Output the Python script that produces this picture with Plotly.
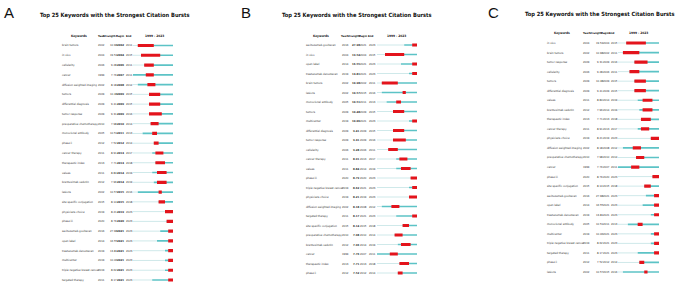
import plotly.graph_objects as go

W, H = 676, 286

# ---------------- data ----------------
keywords = ["brain tumors", "in vivo", "cellularity", "cancer", "diffusion weighted imaging",
            "tumors", "differential diagnosis", "tumor response", "preoperative chemotherapy",
            "monoclonal antibody", "phase ii", "cancer therapy", "therapeutic index", "values",
            "brentuximab vedotin", "lesions", "site specific conjugation", "physicians choice",
            "phase iii", "sacituzumab govitecan", "open label", "trastuzumab deruxtecan",
            "multicenter", "triple negative breast cancer", "targeted therapy"]
first_year = [2002, 2004, 2006, 1999, 2002, 2009, 2009, 2009, 2010, 2005, 2012, 2011, 2013,
              2011, 2012, 2002, 2015, 2019, 2020, 2016, 2014, 2019, 2019, 2019, 2011]
strength = [10.98, 19.54, 9.28, 7.76, 8.18, 10.48, 9.41, 9.31, 7.98, 10.51, 7.52, 8.91, 7.71,
            8.84, 7.96, 10.57, 8.14, 8.21, 8.79, 27.98, 16.55, 13.81, 10.06, 8.62, 8.17]
burst_begin = [2002, 2004, 2006, 2007, 2008, 2009, 2009, 2009, 2010, 2011, 2012, 2013, 2013,
               2014, 2014, 2015, 2015, 2019, 2020, 2021, 2021, 2021, 2021, 2021, 2021]
burst_end = [2011, 2015, 2011, 2011, 2012, 2015, 2015, 2016, 2014, 2013, 2014, 2017, 2018,
             2019, 2019, 2016, 2018, 2023, 2023, 2023, 2023, 2023, 2023, 2023, 2023]

order_A = list(keywords)
order_B = ["sacituzumab govitecan", "in vivo", "open label", "trastuzumab deruxtecan",
           "brain tumors", "lesions", "monoclonal antibody", "tumors", "multicenter",
           "differential diagnosis", "tumor response", "cellularity", "cancer therapy", "values",
           "phase iii", "triple negative breast cancer", "physicians choice",
           "diffusion weighted imaging", "targeted therapy", "site specific conjugation",
           "preoperative chemotherapy", "brentuximab vedotin", "cancer", "therapeutic index",
           "phase ii"]
order_C = ["in vivo", "brain tumors", "tumor response", "cellularity", "tumors",
           "differential diagnosis", "values", "brentuximab vedotin", "therapeutic index",
           "cancer therapy", "physicians choice", "diffusion weighted imaging",
           "preoperative chemotherapy", "cancer", "phase iii", "site specific conjugation",
           "sacituzumab govitecan", "open label", "trastuzumab deruxtecan", "monoclonal antibody",
           "multicenter", "triple negative breast cancer", "targeted therapy", "phase ii", "lesions"]

start_year, final_year = 1999, 2023
title_text = "Top 25 Keywords with the Strongest Citation Bursts"
col_headers = ["Year", "Strength", "Begin", "End"]

# ---------------- layout helpers ----------------
def px_x(p):
    return p / W

def px_y(p):
    return 1 - p / H

FONT = "DejaVu Sans Condensed, Liberation Sans, sans-serif"
RED = "#e3141c"
CYAN = "#5cc3c6"
LIGHT = "#cfe9ea"
TXT = "#2e2e2e"

panels = [
    dict(letter="A", order=order_A, bold="begin", letter_x=8.5, letter_y=13,
         title_x=115, title_y=15, bar=(133, 173), rows=(45.5, 280), kw_x=60, kw_head=79,
         cols=[101.5, 113.5, 120.5, 129.5], heads=[101, 109.5, 120, 128.5], tl_head=154),
    dict(letter="B", order=order_B, bold="strength", letter_x=246, letter_y=13,
         title_x=357, title_y=15, bar=(377, 417), rows=(45, 273), kw_x=304, kw_head=321,
         cols=[345, 356.5, 363, 372], heads=[343.5, 353.5, 362.8, 371], tl_head=397),
    dict(letter="C", order=order_C, bold=None, letter_x=493, letter_y=13,
         title_x=600, title_y=14, bar=(618, 659), rows=(43, 272), kw_x=545, kw_head=562,
         cols=[586, 599.5, 606.5, 614], heads=[586, 595.5, 605, 612], tl_head=638.5),
]

fig = go.Figure()
annotations = []
layout_axes = {}

for n, p in enumerate(panels, start=1):
    xa = "x" if n == 1 else f"x{n}"
    ya = "y" if n == 1 else f"y{n}"
    r0, r1 = p["rows"]
    s = (r1 - r0) / 24
    top_px = r0 - 2 * s
    bot_px = r1 + 0.6 * s
    layout_axes["xaxis" if n == 1 else f"xaxis{n}"] = dict(
        domain=[px_x(p["bar"][0]), px_x(p["bar"][1])], range=[start_year, final_year + 1],
        visible=False, anchor=ya, fixedrange=True)
    layout_axes["yaxis" if n == 1 else f"yaxis{n}"] = dict(
        domain=[px_y(bot_px), px_y(top_px)], range=[24.6, -2], visible=False,
        anchor=xa, fixedrange=True)

    idx = [keywords.index(k) for k in p["order"]]
    lx, ly, cx, cy, rx, ry = [], [], [], [], [], []
    for row, i in enumerate(idx):
        lx += [start_year, first_year[i], None]
        ly += [row, row, None]
        cx += [first_year[i], final_year + 1, None]
        cy += [row, row, None]
        rx += [burst_begin[i], burst_end[i] + 1, None]
        ry += [row, row, None]
    fig.add_trace(go.Scatter(x=lx, y=ly, mode="lines", line=dict(color=LIGHT, width=1),
                             xaxis=xa, yaxis=ya, hoverinfo="skip", showlegend=False))
    fig.add_trace(go.Scatter(x=cx, y=cy, mode="lines", line=dict(color=CYAN, width=1.7),
                             xaxis=xa, yaxis=ya, hoverinfo="skip", showlegend=False))
    fig.add_trace(go.Scatter(x=rx, y=ry, mode="lines", line=dict(color=RED, width=3.2),
                             xaxis=xa, yaxis=ya, hoverinfo="skip", showlegend=False))

    # panel letter and title
    annotations.append(dict(text=p["letter"], x=px_x(p["letter_x"]), y=px_y(p["letter_y"]),
                            xref="paper", yref="paper", showarrow=False, xanchor="center",
                            yanchor="middle", font=dict(family="Liberation Sans", size=15,
                                                        color="#111")))
    annotations.append(dict(text="<b>" + title_text + "</b>", x=px_x(p["title_x"]),
                            y=px_y(p["title_y"]), xref="paper", yref="paper", showarrow=False,
                            xanchor="center", yanchor="middle",
                            font=dict(family=FONT, size=5.7, color="#111")))
    # headers
    hfont = dict(family=FONT, size=2.8, color="#111")
    annotations.append(dict(text="<b>Keywords</b>", x=px_x(p["kw_head"]), y=-1, xref="paper",
                            yref=ya, showarrow=False, xanchor="center", yanchor="middle",
                            font=dict(family=FONT, size=3.2, color="#111")))
    for h, hx in zip(col_headers, p["heads"]):
        annotations.append(dict(text="<b>" + h + "</b>", x=px_x(hx), y=-1, xref="paper",
                                yref=ya, showarrow=False, xanchor="center", yanchor="middle",
                                font=hfont))
    annotations.append(dict(text="<b>%d - %d</b>" % (start_year, final_year),
                            x=px_x(p["tl_head"]), y=-1, xref="paper", yref=ya,
                            showarrow=False, xanchor="center", yanchor="middle",
                            font=dict(family=FONT, size=3.2, color="#111")))
    # rows
    kfont = dict(family=FONT, size=2.85, color=TXT)
    nfont = dict(family=FONT, size=2.8, color=TXT)
    for row, i in enumerate(idx):
        annotations.append(dict(text=keywords[i], x=px_x(p["kw_x"]), y=row, xref="paper",
                                yref=ya, showarrow=False, xanchor="left", yanchor="middle",
                                font=kfont))
        vals = [str(first_year[i]), "%.2f" % strength[i], str(burst_begin[i]),
                str(burst_end[i])]
        keys = ["year", "strength", "begin", "end"]
        for v, k, vx in zip(vals, keys, p["cols"]):
            t = "<b>" + v + "</b>" if k == p["bold"] else v
            annotations.append(dict(text=t, x=px_x(vx), y=row, xref="paper", yref=ya,
                                    showarrow=False, xanchor="center", yanchor="middle",
                                    font=nfont))

fig.update_layout(width=W, height=H, margin=dict(l=0, r=0, t=0, b=0),
                  paper_bgcolor="white", plot_bgcolor="white",
                  font=dict(family=FONT), annotations=annotations, **layout_axes)

fig.write_html("out.html", config={"displayModeBar": False, "staticPlot": True},
               post_script="document.body.style.margin='0';document.body.style.padding='0';")
